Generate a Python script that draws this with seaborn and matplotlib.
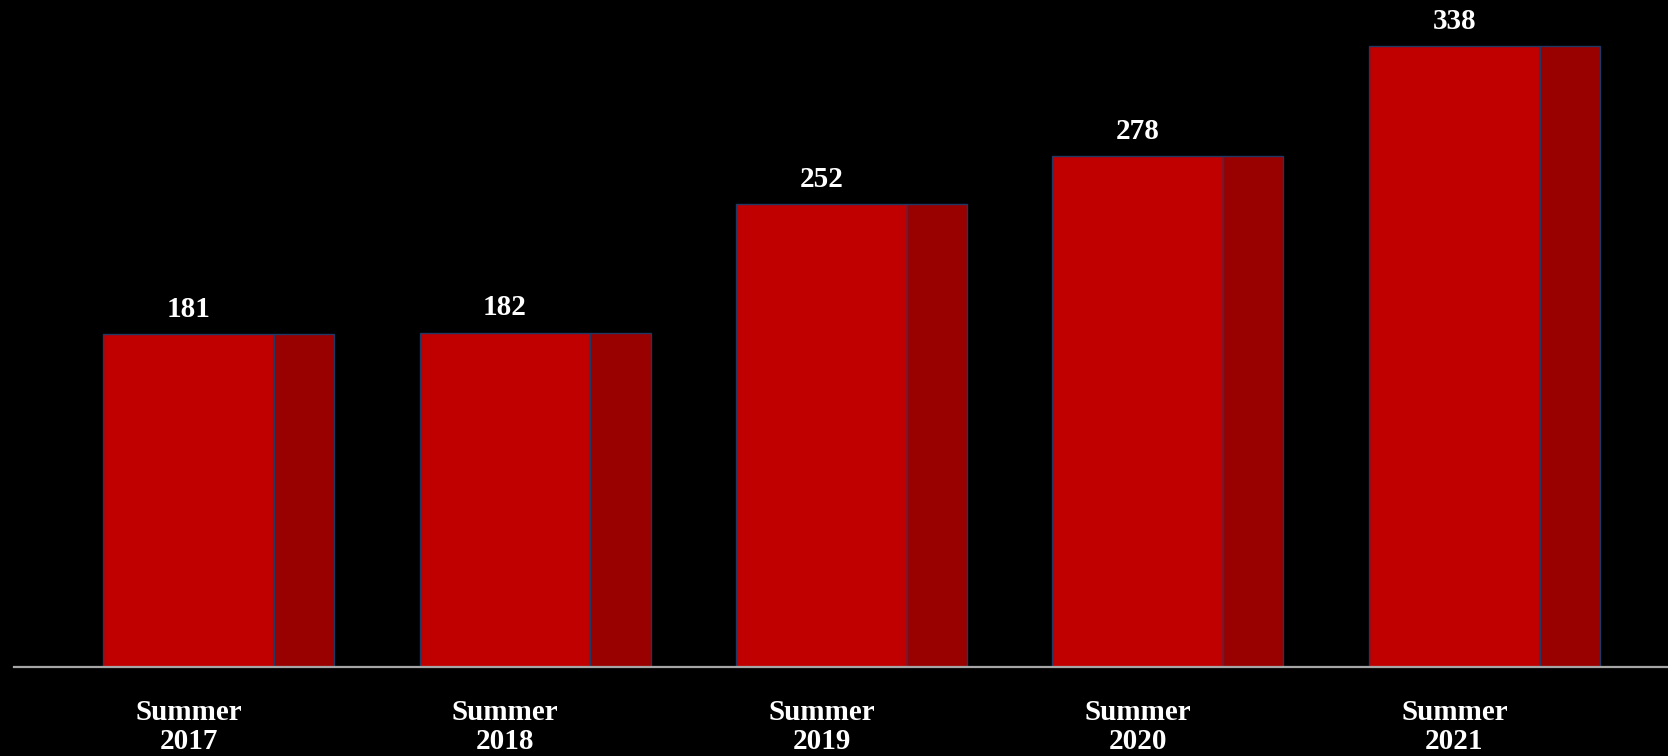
import numpy as np
import matplotlib
matplotlib.use("Agg")
import matplotlib.pyplot as plt
import seaborn as sns

seasons = ["Summer\n2017", "Summer\n2018", "Summer\n2019", "Summer\n2020", "Summer\n2021"]
counts = [181, 182, 252, 278, 338]

sns.set_style("dark")
plt.rcParams["font.family"] = ["Liberation Serif", "DejaVu Serif"]

fig = plt.figure(figsize=(16.68, 7.56), dpi=100, facecolor="black")
ax = fig.add_axes([14 / 1668, 89 / 756, 1 - 14 / 1668, 667 / 756])
ax.set_facecolor("black")

sns.barplot(x=seasons, y=counts, color="#C00000", saturation=1, width=0.54,
            edgecolor="#1F3864", linewidth=1.0, ax=ax)
# darker side face of each bar
x = np.arange(len(counts))
ax.bar(x + 0.27, counts, width=0.19, align="edge", color="#990000",
       edgecolor="#1F3864", linewidth=1.0)

ax.bar_label(ax.containers[0], labels=[str(c) for c in counts], padding=8,
             color="white", fontsize=21, fontweight="bold")

ax.set_xlim(-0.5514, 4.675)
ax.set_ylim(0, 363)
ax.set_ylabel("")
ax.set_yticks([])
ax.grid(False)
for s in ["top", "right", "left"]:
    ax.spines[s].set_visible(False)
ax.spines["bottom"].set_color("#A6A6A6")
ax.spines["bottom"].set_linewidth(1.6)
ax.tick_params(axis="x", length=0, pad=23)
for t in ax.get_xticklabels():
    t.set_color("white")
    t.set_fontsize(21)
    t.set_fontweight("bold")
    t.set_linespacing(1.12)

fig.savefig("out.png", dpi=100, facecolor="black")
